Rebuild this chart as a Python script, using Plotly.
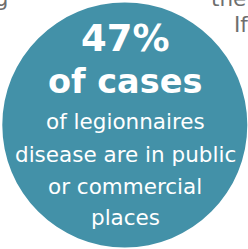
import plotly.graph_objects as go

# ---- data ----
stat_value = "47%"
stat_label = "of cases"
desc_lines = ["of legionnaires", "disease are in public", "or commercial", "places"]
side_left_text = ["spreading"]
side_right_text = ["the l", "If"]

# ---- layout / style ----
W, H = 248, 249
teal = "#4391a8"
grey = "#6e6e6e"
reg_font = "DejaVu Sans"
reg_size = 21.5
circle_box = (2.3, 2.5, 247.3, 247.5)
cx = 125
stat_baseline, stat_size = 52, 37
label_baseline, label_size = 94, 33.5
desc_baselines = [130, 162.5, 194.5, 226]
left_pos = [(9.5, 7)]
right_pos = [(210, 7), (233, 33)]


def bottom(baseline, size):
    # annotation box bottom = baseline + font descent
    return baseline + 0.236 * size


fig = go.Figure()
fig.add_trace(go.Scatter(x=[0, W], y=[0, H], mode="markers",
                         marker=dict(opacity=0), hoverinfo="skip", showlegend=False))

fig.add_shape(type="circle", xref="x", yref="y",
              x0=circle_box[0], y0=circle_box[1], x1=circle_box[2], y1=circle_box[3],
              fillcolor=teal, line=dict(width=0), layer="below")

ann = []
ann.append(dict(text=stat_value, x=cx, y=bottom(stat_baseline, stat_size),
                font=dict(family=reg_font, size=stat_size, color="white", weight="bold")))
ann.append(dict(text=stat_label, x=cx, y=bottom(label_baseline, label_size),
                font=dict(family=reg_font, size=label_size, color="white", weight="bold")))
for t, b in zip(desc_lines, desc_baselines):
    ann.append(dict(text=t, x=cx, y=bottom(b, reg_size),
                    font=dict(family=reg_font, size=reg_size, color="white")))
for t, (x, b) in zip(side_left_text, left_pos):
    ann.append(dict(text=t, x=x, y=bottom(b, reg_size), xanchor="right",
                    font=dict(family=reg_font, size=reg_size, color=grey)))
for t, (x, b) in zip(side_right_text, right_pos):
    ann.append(dict(text=t, x=x, y=bottom(b, reg_size), xanchor="left",
                    font=dict(family=reg_font, size=reg_size, color=grey)))

for a in ann:
    a.setdefault("xanchor", "center")
    a.update(xref="x", yref="y", yanchor="bottom", showarrow=False, borderpad=0)

fig.update_layout(
    width=W, height=H,
    margin=dict(l=0, r=0, t=0, b=0),
    paper_bgcolor="white", plot_bgcolor="white",
    xaxis=dict(range=[0, W], visible=False, fixedrange=True),
    yaxis=dict(range=[H, 0], visible=False, fixedrange=True),
    annotations=ann,
    showlegend=False,
)
fig.write_html(
    "out.html",
    config={"displayModeBar": False},
    post_script="document.body.style.margin='0';document.body.style.overflow='hidden';",
)
